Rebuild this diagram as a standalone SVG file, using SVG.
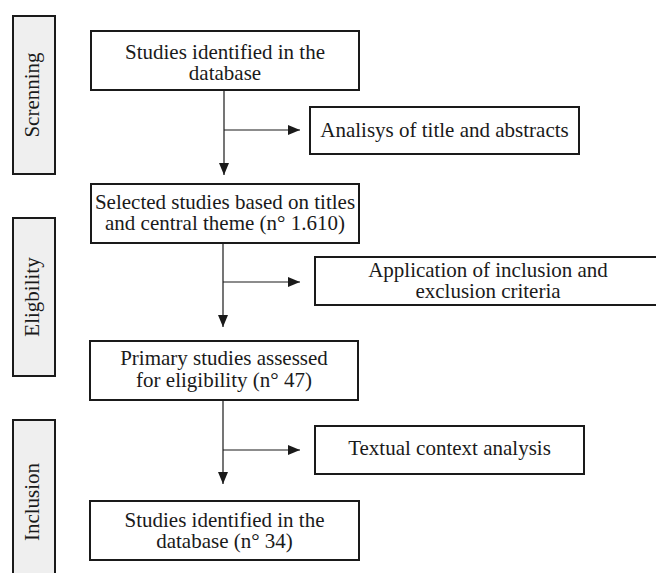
<svg xmlns="http://www.w3.org/2000/svg" width="656" height="573" viewBox="0 0 656 573">
<defs>
<style>
.box{fill:#ffffff;stroke:#1a1a1a;stroke-width:2}
.side{fill:#efefef;stroke:#1a1a1a;stroke-width:2}
.t{font-family:'Liberation Serif','DejaVu Serif',serif;font-size:21px;fill:#1a1a1a;text-anchor:middle}
.c{fill:none;stroke:#1a1a1a;stroke-width:1.2}
</style>
<marker id="ah" viewBox="0 0 12 10" refX="12" refY="5" markerWidth="12" markerHeight="10" markerUnits="userSpaceOnUse" orient="auto">
<path d="M0,0 L12,5 L0,10 Z" fill="#1a1a1a"/>
</marker>
</defs>
<rect width="656" height="573" fill="#ffffff"/>
<g id="phase-screening">
<rect class="side" x="13" y="16" width="42" height="158"/>
<text class="t" font-family="Liberation Serif, serif" transform="translate(39,95) rotate(-90)">Screnning</text>
</g>
<g id="phase-eligibility">
<rect class="side" x="13" y="218" width="42" height="158"/>
<text class="t" transform="translate(39,297) rotate(-90)">Eligbility</text>
</g>
<g id="phase-inclusion">
<rect class="side" x="13" y="420" width="42" height="170"/>
<text class="t" transform="translate(39,502) rotate(-90)">Inclusion</text>
</g>
<g id="connectors">
<line class="c" x1="224" y1="90" x2="224" y2="175" marker-end="url(#ah)"/>
<line class="c" x1="224" y1="130" x2="300" y2="130" marker-end="url(#ah)"/>
<line class="c" x1="223" y1="243" x2="223" y2="327" marker-end="url(#ah)"/>
<line class="c" x1="223" y1="282" x2="300" y2="282" marker-end="url(#ah)"/>
<line class="c" x1="223" y1="400" x2="223" y2="484" marker-end="url(#ah)"/>
<line class="c" x1="223" y1="450" x2="300" y2="450" marker-end="url(#ah)"/>
</g>
<g id="n1">
<rect class="box" x="91" y="31" width="268" height="59"/>
<text class="t" x="225" y="59">Studies identified in the</text>
<text class="t" x="225" y="80">database</text>
</g>
<g id="n2">
<rect class="box" x="310" y="107" width="269" height="47"/>
<text class="t" x="444.5" y="137">Analisys of title and abstracts</text>
</g>
<g id="n3">
<rect class="box" x="91" y="184" width="268" height="59"/>
<text class="t" x="225" y="209">Selected studies based on titles</text>
<text class="t" x="225" y="230">and central theme (n° 1.610)</text>
</g>
<g id="n4">
<rect class="box" x="315" y="257" width="360" height="48"/>
<text class="t" x="488" y="277">Application of inclusion and</text>
<text class="t" x="488" y="298">exclusion criteria</text>
</g>
<g id="n5">
<rect class="box" x="90" y="341" width="268" height="59"/>
<text class="t" x="224" y="365">Primary studies assessed</text>
<text class="t" x="224" y="387">for eligibility (n° 47)</text>
</g>
<g id="n6">
<rect class="box" x="315" y="426" width="269" height="48"/>
<text class="t" x="449.5" y="455">Textual context analysis</text>
</g>
<g id="n7">
<rect class="box" x="90" y="501" width="269" height="59"/>
<text class="t" x="224.5" y="527">Studies identified in the</text>
<text class="t" x="224.5" y="548">database (n° 34)</text>
</g>
</svg>
